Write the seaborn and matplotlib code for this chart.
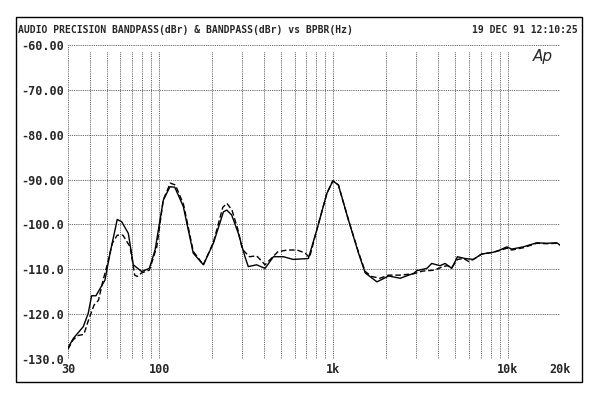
import numpy as np
import pandas as pd
import matplotlib
matplotlib.use("Agg")
import matplotlib.pyplot as plt
import seaborn as sns
from matplotlib.patches import Rectangle

# solid trace (Hz, dBr)
solid_hz = [30, 32.2, 36.7, 39.2, 41, 43.4, 48.9, 52.3, 57.5, 61, 66.6, 71.1, 79.4, 87.9, 94.8,
            105.7, 115.4, 123, 137.7, 157, 179.5, 204.9, 234, 244.6, 261, 285, 311, 325, 363,
            405.6, 453, 517, 588, 719, 804, 918, 993, 1069, 1221, 1395, 1524, 1780, 2076, 2421,
            2890, 3019, 3441, 3672, 4098, 4380, 4784, 5155, 5700, 6360, 7110, 8280, 9050, 9900,
            10570, 12300, 14700, 16800, 19200, 20000]
solid_db = [-127.5, -125.4, -122.8, -119.8, -115.9, -115.9, -112.4, -106.4, -98.9, -99.4, -102.0,
            -109.0, -110.5, -109.8, -105.7, -94.6, -91.6, -91.7, -96.0, -106.4, -109.0, -104.2,
            -97.2, -96.8, -97.9, -102.0, -107.2, -109.4, -109.0, -109.8, -107.2, -107.2, -107.8,
            -107.6, -101.2, -93.1, -90.3, -91.2, -99.0, -106.4, -110.8, -112.8, -111.5, -112.0,
            -110.9, -110.3, -109.8, -108.7, -109.2, -108.7, -109.8, -107.2, -107.6, -107.8,
            -106.6, -106.2, -105.7, -105.0, -105.5, -105.0, -104.1, -104.2, -104.1, -104.6]

# dashed trace (Hz, dBr)
dash_hz = [30, 32, 34, 37, 39.2, 42.3, 44.9, 47.3, 50.6, 53.9, 57.5, 62, 68.2, 72.4, 75, 79.4,
           87.9, 97, 105.7, 116, 124, 138, 157, 179.5, 204.9, 232, 245, 262, 285, 300, 330, 363,
           405.6, 480, 545, 620, 690, 730, 804, 918, 993, 1069, 1221, 1395, 1524, 1660, 1850,
           2076, 2421, 2890, 3250, 3800, 4200, 4500, 4784, 5155, 5600, 6000, 6360, 7110, 8280,
           9050, 9900, 10570, 12300, 14700, 16800, 19200, 20000]
dash_db = [-127.8, -125.8, -124.8, -124.5, -121.5, -118.0, -116.9, -113.0, -108.7, -104.2, -102.4,
           -102.4, -105.0, -111.3, -111.6, -110.8, -110.2, -105.0, -94.5, -90.8, -91.2, -95.5,
           -106.0, -109.0, -104.0, -96.2, -95.3, -96.8, -101.5, -105.5, -107.2, -107.0, -109.0,
           -106.1, -105.7, -105.7, -106.4, -107.4, -101.2, -93.1, -90.3, -91.2, -99.0, -106.2,
           -110.5, -111.6, -112.0, -111.3, -111.3, -111.0, -110.4, -110.2, -109.5, -109.2,
           -109.6, -107.8, -107.6, -108.3, -107.8, -106.6, -106.2, -105.8, -105.3, -105.7,
           -105.2, -104.2, -104.3, -104.2, -104.6]

y_ticks = [-60, -70, -80, -90, -100, -110, -120, -130]
y_labels = ["-60.00", "-70.00", "-80.00", "-90.00", "-100.0", "-110.0", "-120.0", "-130.0"]
x_ticks = [30, 100, 1000, 10000, 20000]
x_labels = ["30", "100", "1k", "10k", "20k"]

df = pd.DataFrame({
    "Hz": solid_hz + dash_hz,
    "dBr": solid_db + dash_db,
    "trace": ["A"] * len(solid_hz) + ["B"] * len(dash_hz),
})

sns.set_style("white")
mono = ["DejaVu Sans Mono"]

fig = plt.figure(figsize=(6, 4), dpi=100)
ax = fig.add_axes([68 / 600, 1 - 359 / 400, 492 / 600, 314 / 400])

# grid
grid_kw = dict(color="#333333", linestyle=(0, (1, 1.2)), linewidth=0.6)
for y in y_ticks:
    ax.axhline(y, **grid_kw, zorder=1)
grid_x = [f * d for d in (10, 100, 1000) for f in range(1, 10)] + [10000, 20000]
grid_x = [x for x in grid_x if 30 < x < 20000]
ax.vlines(grid_x, -130, -61.5, **grid_kw, zorder=1)
ax.axvline(30, **grid_kw, zorder=1)
ax.axvline(20000, **grid_kw, zorder=1)

sns.lineplot(data=df, x="Hz", y="dBr", style="trace", color="black", linewidth=1.0,
             dashes={"A": "", "B": (4, 2)}, legend=False, estimator=None, sort=False, ax=ax,
             zorder=3)

ax.set_xscale("log")
ax.set_xlim(30, 20000)
ax.set_ylim(-130, -60)
for s in ax.spines.values():
    s.set_visible(False)
ax.set_xticks(x_ticks)
ax.set_xticklabels(x_labels)
ax.set_xticks([], minor=True)
ax.set_yticks(y_ticks)
ax.set_yticklabels(y_labels)
ax.tick_params(length=0, pad=3)
for lab in ax.get_xticklabels() + ax.get_yticklabels():
    lab.set_family(mono)
    lab.set_fontweight("bold")
    lab.set_fontsize(8.5)
ax.set_xlabel("")
ax.set_ylabel("")

# outer frame
fig.patches.append(Rectangle((16 / 600, 1 - 382 / 400), 566 / 600, 365 / 400,
                             transform=fig.transFigure, fill=False, edgecolor="black",
                             linewidth=1.0))

fig.text(18 / 600, 1 - 30 / 400, "AUDIO PRECISION BANDPASS(dBr) & BANDPASS(dBr) vs BPBR(Hz)",
         family=mono, fontweight="bold", fontsize=7, va="center", ha="left")
fig.text(578 / 600, 1 - 30 / 400, "19 DEC 91 12:10:25",
         family=mono, fontweight="bold", fontsize=7, va="center", ha="right")
fig.text(543 / 600, 1 - 57 / 400, "Ap", family=["DejaVu Sans"], style="italic",
         fontsize=11, va="center", ha="center")

fig.savefig("out.png", dpi=100, facecolor="white")
